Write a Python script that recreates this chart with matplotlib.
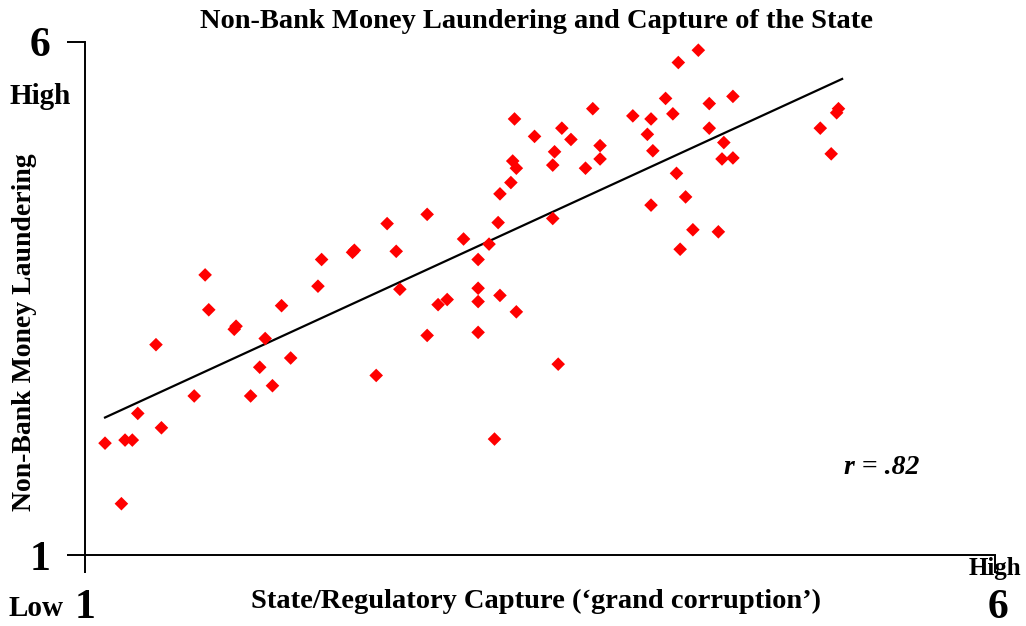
import matplotlib
matplotlib.use("Agg")
import matplotlib.pyplot as plt

# State/Regulatory Capture (x) vs Non-Bank Money Laundering (y)
capture = [1.11, 1.20, 1.22, 1.26, 1.29, 1.39, 1.42, 1.60, 1.66, 1.68,
           1.82, 1.83, 1.91, 1.96, 1.99, 2.03, 2.08, 2.13, 2.28, 2.30,
           2.47, 2.48, 2.60, 2.66, 2.71, 2.73, 2.88, 2.88, 2.94, 2.99,
           3.08, 3.16, 3.16, 3.16, 3.16, 3.22, 3.25, 3.28, 3.27, 3.28,
           3.34, 3.35, 3.36, 3.37, 3.37, 3.47, 3.57, 3.57, 3.58, 3.60,
           3.62, 3.67, 3.75, 3.79, 3.83, 3.83, 4.01, 4.09, 4.11, 4.11,
           4.12, 4.19, 4.23, 4.26, 4.25, 4.27, 4.30, 4.34, 4.37, 4.43,
           4.43, 4.48, 4.50, 4.51, 4.56, 4.56, 5.04, 5.10, 5.13, 5.14]
laundering = [2.09, 1.50, 2.12, 2.12, 2.38, 3.05, 2.24, 2.55, 3.73, 3.39,
              3.20, 3.23, 2.55, 2.83, 3.11, 2.65, 3.43, 2.92, 3.62, 3.88,
              3.95, 3.97, 2.75, 4.23, 3.96, 3.59, 3.14, 4.32, 3.44, 3.49,
              4.08, 3.88, 3.60, 3.47, 3.17, 4.03, 2.13, 3.53, 4.24, 4.52,
              4.63, 4.84, 5.25, 4.77, 3.37, 5.08, 4.28, 4.80, 4.93, 2.86,
              5.16, 5.05, 4.77, 5.35, 4.86, 4.99, 5.28, 5.10, 4.41, 5.25,
              4.94, 5.45, 5.30, 5.80, 4.72, 3.98, 4.49, 4.17, 5.92, 5.40,
              5.16, 4.15, 4.86, 5.02, 5.47, 4.87, 5.16, 4.91, 5.31, 5.35]

# fitted regression line end points
fit_x = [1.11, 5.16]
fit_y = [2.34, 5.64]

title = "Non-Bank Money Laundering and Capture of the State"
xlabel = "State/Regulatory Capture (\u2018grand corruption\u2019)"
ylabel = "Non-Bank Money Laundering"
r_text = "r = .82"

plt.rcParams['font.family'] = ['Liberation Serif', 'DejaVu Serif']

fig = plt.figure(figsize=(10.26, 6.26), dpi=100)
ax = fig.add_axes([85/1026, 1 - 555/626, (995-85)/1026, (555-42)/626])

ax.plot(fit_x, fit_y, color='black', lw=1.6, zorder=2)
ax.scatter(capture, laundering, marker='D', s=48, color='#ff0000',
           edgecolors='none', zorder=3)

ax.set_xlim(1, 6)
ax.set_ylim(1, 6)
for s in ['top', 'right']:
    ax.spines[s].set_visible(False)
for s in ['left', 'bottom']:
    ax.spines[s].set_linewidth(1.4)

ax.set_yticks([1, 6])
ax.set_yticklabels(['1', '6'], fontsize=30, fontweight='bold')
ax.tick_params(axis='y', direction='out', length=13, width=1.4, pad=12)
ax.set_xticks([1, 6])
ax.set_xticklabels(['', ''])
ax.tick_params(axis='x', direction='out', length=13, width=1.4)

fig.text(537/1026, 1 - 21/626, title, ha='center', va='center',
         fontsize=20.5, fontweight='bold')
fig.text(536/1026, 1 - 601/626, xlabel, ha='center', va='center',
         fontsize=20.5, fontweight='bold')
fig.text(25/1026, 1 - 332/626, ylabel, ha='center', va='center',
         rotation=90, fontsize=20, fontweight='bold')
fig.text(40/1026, 1 - 97/626, "High", ha='center', va='center',
         fontsize=21, fontweight='bold')
fig.text(36/1026, 1 - 608/626, "Low", ha='center', va='center',
         fontsize=21, fontweight='bold')
fig.text(85/1026, 1 - 608/626, "1", ha='center', va='center',
         fontsize=30, fontweight='bold')
fig.text(995/1026, 1 - 569/626, "High", ha='center', va='center',
         fontsize=18, fontweight='bold')
fig.text(998/1026, 1 - 608/626, "6", ha='center', va='center',
         fontsize=30, fontweight='bold')
fig.text(882/1026, 1 - 467/626, r_text, ha='center', va='center',
         fontsize=20, fontweight='bold', style='italic')

fig.savefig("out.png", dpi=100)
